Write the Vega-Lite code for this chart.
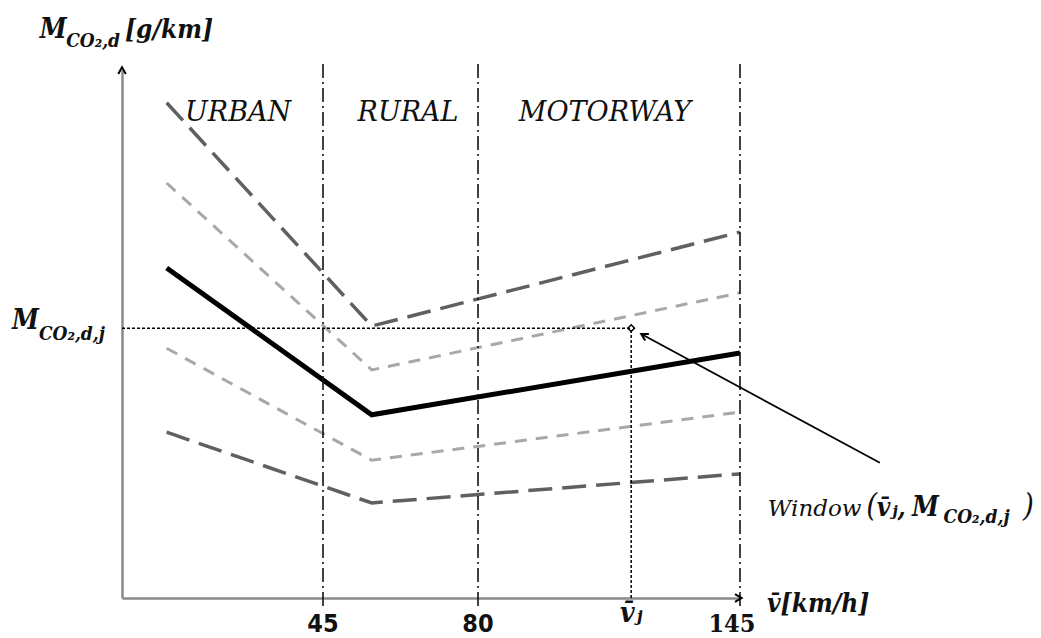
{
  "$schema": "https://vega.github.io/schema/vega-lite/v6.json",
  "width": 618,
  "height": 528,
  "autosize": {"type": "none"},
  "padding": {"left": 122, "top": 70, "right": 301, "bottom": 40},
  "background": "white",
  "config": {"view": {"stroke": null}},
  "datasets": {
    "curves": [
      {"curve": "upper2", "speed": 10, "emission": 93.8},
      {"curve": "upper2", "speed": 56, "emission": 51.5},
      {"curve": "upper2", "speed": 145, "emission": 69.3},
      {"curve": "upper1", "speed": 10, "emission": 78.6},
      {"curve": "upper1", "speed": 56, "emission": 43.2},
      {"curve": "upper1", "speed": 145, "emission": 57.8},
      {"curve": "mean", "speed": 10, "emission": 62.5},
      {"curve": "mean", "speed": 56, "emission": 34.7},
      {"curve": "mean", "speed": 145, "emission": 46.4},
      {"curve": "lower1", "speed": 10, "emission": 47.3},
      {"curve": "lower1", "speed": 56, "emission": 26.1},
      {"curve": "lower1", "speed": 145, "emission": 35.2},
      {"curve": "lower2", "speed": 10, "emission": 31.4},
      {"curve": "lower2", "speed": 56, "emission": 18.0},
      {"curve": "lower2", "speed": 145, "emission": 23.5}
    ],
    "bounds": [{"speed": 45, "lo": -1.5, "hi": 101.5}, {"speed": 80, "lo": -1.5, "hi": 101.8}, {"speed": 145, "lo": -1.5, "hi": 101.5}],
    "window": [{"speed": 118, "emission": 51.1, "zs": 0, "ze": 0}],
    "leader": [{"speed": 179.7, "emission": 25.6, "speed2": 120.5, "emission2": 50.0}],
    "regions": [
      {"name": "URBAN", "speed": 26.0, "emission": 90.3},
      {"name": "RURAL", "speed": 64.2, "emission": 90.3},
      {"name": "MOTORWAY", "speed": 111.5, "emission": 90.3}
    ],
    "arrows": [
      {"speed": 0, "emission": 100.5, "angle": 270},
      {"speed": 145.4, "emission": 0, "angle": 0},
      {"speed": 120.5, "emission": 50.0, "angle": 209.5}
    ],
    "bigM": [
      {"t": "M", "speed": -18.4, "emission": 106.1},
      {"t": "M", "speed": -24.6, "emission": 50.9},
      {"t": "M", "speed": 187.7, "emission": 15.6}
    ],
    "subs": [
      {"t": "CO₂,d", "speed": -12.5, "emission": 104.4},
      {"t": "CO₂,d,j", "speed": -18.6, "emission": 48.9},
      {"t": "CO₂,d,j", "speed": 195.5, "emission": 14.2}
    ],
    "units": [
      {"t": "[g/km]", "speed": 0.67, "emission": 106.1},
      {"t": "v̄[km/h]", "speed": 151.7, "emission": -2.65},
      {"t": "v̄ⱼ,", "speed": 178.9, "emission": 15.6}
    ],
    "parens": [
      {"t": "(", "speed": 176.3, "emission": 15.6},
      {"t": ")", "speed": 215.2, "emission": 15.6}
    ],
    "ticks": [
      {"t": "45", "speed": 45, "emission": -6.4},
      {"t": "80", "speed": 80, "emission": -6.4}
    ],
    "ticks2": [
      {"t": "v̄ⱼ", "speed": 118, "emission": -4.5}
    ],
    "ticks3": [
      {"t": "145", "speed": 143.0, "emission": -6.4}
    ],
    "wlabel": [
      {"t": "Window", "speed": 151.9, "emission": 15.6}
    ]
  },
  "layer": [
    {
      "data": {"name": "curves"},
      "transform": [{"filter": "datum.curve == 'upper2' || datum.curve == 'lower2'"}],
      "mark": {"type": "line", "color": "#606060", "strokeWidth": 3.5, "strokeDash": [24, 10]},
      "encoding": {
        "x": {"field": "speed", "type": "quantitative", "scale": {"domain": [0, 45, 80, 145], "range": [0, 201, 356, 618], "nice": false, "zero": false},
              "axis": {"domain": true, "domainColor": "#8a8a8a", "domainWidth": 2.5, "ticks": false, "labels": false, "grid": false, "title": null}},
        "y": {"field": "emission", "type": "quantitative", "scale": {"domain": [0, 100], "nice": false, "zero": false},
              "axis": {"domain": true, "domainColor": "#8a8a8a", "domainWidth": 2.5, "ticks": false, "labels": false, "grid": false, "title": null}},
        "detail": {"field": "curve", "type": "nominal"}
      }
    },
    {
      "data": {"name": "curves"},
      "transform": [{"filter": "datum.curve == 'upper1' || datum.curve == 'lower1'"}],
      "mark": {"type": "line", "color": "#a8a8a8", "strokeWidth": 3, "strokeDash": [12, 9]},
      "encoding": {
        "x": {"field": "speed", "type": "quantitative"},
        "y": {"field": "emission", "type": "quantitative"},
        "detail": {"field": "curve", "type": "nominal"}
      }
    },
    {
      "data": {"name": "curves"},
      "transform": [{"filter": "datum.curve == 'mean'"}],
      "mark": {"type": "line", "color": "#000000", "strokeWidth": 5},
      "encoding": {
        "x": {"field": "speed", "type": "quantitative"},
        "y": {"field": "emission", "type": "quantitative"}
      }
    },
    {
      "data": {"name": "bounds"},
      "mark": {"type": "rule", "color": "#111", "strokeWidth": 1.6, "strokeDash": [14, 4, 2, 4]},
      "encoding": {
        "x": {"field": "speed", "type": "quantitative"},
        "y": {"field": "lo", "type": "quantitative"},
        "y2": {"field": "hi"}
      }
    },
    {
      "data": {"name": "window"},
      "mark": {"type": "rule", "color": "#000", "strokeWidth": 1.5, "strokeDash": [3, 2]},
      "encoding": {
        "x": {"field": "zs", "type": "quantitative"},
        "x2": {"field": "speed"},
        "y": {"field": "emission", "type": "quantitative"}
      }
    },
    {
      "data": {"name": "window"},
      "mark": {"type": "rule", "color": "#000", "strokeWidth": 1.5, "strokeDash": [3, 2]},
      "encoding": {
        "x": {"field": "speed", "type": "quantitative"},
        "y": {"field": "ze", "type": "quantitative"},
        "y2": {"field": "emission"}
      }
    },
    {
      "data": {"name": "window"},
      "mark": {"type": "point", "shape": "diamond", "filled": false, "color": "#000", "strokeWidth": 1.5, "size": 45, "opacity": 1},
      "encoding": {
        "x": {"field": "speed", "type": "quantitative"},
        "y": {"field": "emission", "type": "quantitative"}
      }
    },
    {
      "data": {"name": "leader"},
      "mark": {"type": "rule", "color": "#000", "strokeWidth": 1.8},
      "encoding": {
        "x": {"field": "speed", "type": "quantitative"},
        "y": {"field": "emission", "type": "quantitative"},
        "x2": {"field": "speed2"},
        "y2": {"field": "emission2"}
      }
    },
    {
      "data": {"name": "arrows"},
      "mark": {"type": "point", "shape": "M-1.4,-0.8L0,0L-1.4,0.8", "filled": false, "color": "#000", "strokeWidth": 2, "size": 90, "opacity": 1},
      "encoding": {
        "x": {"field": "speed", "type": "quantitative"},
        "y": {"field": "emission", "type": "quantitative"},
        "angle": {"field": "angle", "type": "quantitative", "scale": null}
      }
    },
    {
      "data": {"name": "regions"},
      "mark": {"type": "text", "font": "DejaVu Serif", "fontStyle": "italic", "fontSize": 27, "align": "center", "baseline": "alphabetic", "color": "#111"},
      "encoding": {
        "x": {"field": "speed", "type": "quantitative"},
        "y": {"field": "emission", "type": "quantitative"},
        "text": {"field": "name", "type": "nominal"}
      }
    },
    {
      "data": {"name": "bigM"},
      "mark": {"type": "text", "font": "DejaVu Serif Condensed, DejaVu Serif", "fontStyle": "italic", "fontWeight": "bold", "fontSize": 27, "align": "left", "baseline": "alphabetic", "color": "#111"},
      "encoding": {
        "x": {"field": "speed", "type": "quantitative"},
        "y": {"field": "emission", "type": "quantitative"},
        "text": {"field": "t", "type": "nominal"}
      }
    },
    {
      "data": {"name": "subs"},
      "mark": {"type": "text", "font": "DejaVu Serif Condensed, DejaVu Serif", "fontStyle": "italic", "fontWeight": "bold", "fontSize": 19, "align": "left", "baseline": "alphabetic", "color": "#111"},
      "encoding": {
        "x": {"field": "speed", "type": "quantitative"},
        "y": {"field": "emission", "type": "quantitative"},
        "text": {"field": "t", "type": "nominal"}
      }
    },
    {
      "data": {"name": "units"},
      "mark": {"type": "text", "font": "DejaVu Serif Condensed, DejaVu Serif", "fontStyle": "italic", "fontWeight": "bold", "fontSize": 26, "align": "left", "baseline": "alphabetic", "color": "#111"},
      "encoding": {
        "x": {"field": "speed", "type": "quantitative"},
        "y": {"field": "emission", "type": "quantitative"},
        "text": {"field": "t", "type": "nominal"}
      }
    },
    {
      "data": {"name": "parens"},
      "mark": {"type": "text", "font": "DejaVu Serif Condensed, DejaVu Serif", "fontStyle": "italic", "fontSize": 31, "align": "left", "baseline": "alphabetic", "color": "#111"},
      "encoding": {
        "x": {"field": "speed", "type": "quantitative"},
        "y": {"field": "emission", "type": "quantitative"},
        "text": {"field": "t", "type": "nominal"}
      }
    },
    {
      "data": {"name": "wlabel"},
      "mark": {"type": "text", "font": "DejaVu Serif", "fontStyle": "italic", "fontSize": 23, "align": "left", "baseline": "alphabetic", "color": "#111"},
      "encoding": {
        "x": {"field": "speed", "type": "quantitative"},
        "y": {"field": "emission", "type": "quantitative"},
        "text": {"field": "t", "type": "nominal"}
      }
    },
    {
      "data": {"name": "ticks"},
      "mark": {"type": "text", "font": "DejaVu Sans Condensed, DejaVu Sans", "fontWeight": "bold", "fontSize": 25, "align": "center", "baseline": "alphabetic", "color": "#111"},
      "encoding": {
        "x": {"field": "speed", "type": "quantitative"},
        "y": {"field": "emission", "type": "quantitative"},
        "text": {"field": "t", "type": "nominal"}
      }
    },
    {
      "data": {"name": "ticks2"},
      "mark": {"type": "text", "font": "DejaVu Serif Condensed, DejaVu Serif", "fontStyle": "italic", "fontWeight": "bold", "fontSize": 28, "align": "center", "baseline": "alphabetic", "color": "#111"},
      "encoding": {
        "x": {"field": "speed", "type": "quantitative"},
        "y": {"field": "emission", "type": "quantitative"},
        "text": {"field": "t", "type": "nominal"}
      }
    },
    {
      "data": {"name": "ticks3"},
      "mark": {"type": "text", "font": "DejaVu Serif Condensed, DejaVu Serif", "fontWeight": "bold", "fontSize": 25, "align": "center", "baseline": "alphabetic", "color": "#111"},
      "encoding": {
        "x": {"field": "speed", "type": "quantitative"},
        "y": {"field": "emission", "type": "quantitative"},
        "text": {"field": "t", "type": "nominal"}
      }
    }
  ]
}
